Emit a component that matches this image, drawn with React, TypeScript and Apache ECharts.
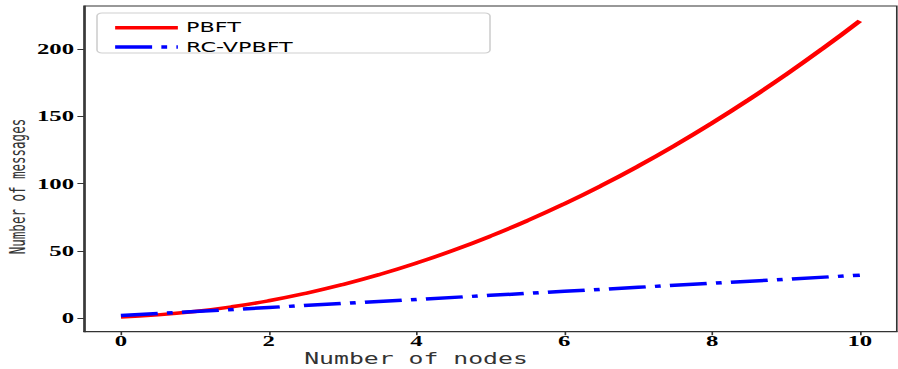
import React, { useEffect, useRef } from "react";
import * as echarts from "echarts";

// ---- data ----
const pbftNodes = [0, 0.5, 1, 1.5, 2, 2.5, 3, 3.5, 4, 4.5, 5, 5.5, 6, 6.5, 7, 7.5, 8, 8.5, 9, 9.5, 10];
const pbftMessages = [1, 2.5, 5, 8.5, 13, 18.5, 25, 32.5, 41, 50.5, 61, 72.5, 85, 98.5, 113, 128.5, 145, 162.5, 181, 200.5, 221];
const rcNodes = [0, 1, 2, 3, 4, 5, 6, 7, 8, 9, 10];
const rcMessages = [2, 5, 8, 11, 14, 17, 20, 23, 26, 29, 32];
const xTicks = [0, 2, 4, 6, 8, 10];
const yTicks = [0, 50, 100, 150, 200];
const seriesNames = ["PBFT", "RC-VPBFT"];
const xTitle = "Number of nodes";
const yTitle = "Number of messages";

// The reference image is horizontally stretched; render narrower and scale.
const FULL_W = 898;
const H = 369;
const W = 544;
const S = FULL_W / W;

export default function App() {
  const ref = useRef<HTMLDivElement>(null);
  useEffect(() => {
    if (!ref.current) return;
    const chart = echarts.init(ref.current, null, { renderer: "svg" });
    const pts = (xs: number[], ys: number[]) => xs.map((x, i) => [x, ys[i]]);
    chart.setOption({
      animation: false,
      backgroundColor: "#ffffff",
      grid: {
        left: 84 / S,
        right: 1.2 / S,
        top: 6,
        bottom: H - 331.7,
        show: true,
        borderColor: "#333",
        borderWidth: 1,
        containLabel: false,
      },
      xAxis: {
        type: "value",
        min: -0.5,
        max: 10.5,
        axisLine: { show: true, onZero: false, lineStyle: { color: "#333", width: 1 } },
        axisTick: { show: true, length: 3.5, customValues: xTicks, lineStyle: { color: "#333" } },
        axisLabel: {
          customValues: xTicks,
          margin: 2,
          color: "#000",
          fontFamily: "Liberation Serif",
          fontWeight: "bold",
          fontSize: 15,
        },
        splitLine: { show: false },
      },
      yAxis: {
        type: "value",
        min: -10,
        max: 232,
        axisLine: { show: true, onZero: false, lineStyle: { color: "#333", width: 1 } },
        axisTick: { show: true, length: 4, customValues: yTicks, lineStyle: { color: "#333" } },
        axisLabel: {
          customValues: yTicks,
          margin: 6,
          color: "#000",
          fontFamily: "Liberation Serif",
          fontWeight: "bold",
          fontSize: 15,
        },
        splitLine: { show: false },
      },
      legend: {
        orient: "vertical",
        left: 63,
        top: 15.7,
        itemWidth: 38,
        itemHeight: 14,
        itemGap: 5.3,
        itemStyle: { opacity: 0 },
        lineStyle: { width: 3.5 },
        textStyle: { fontFamily: "DejaVu Sans", fontSize: 13.5, color: "#000" },
        data: seriesNames,
      },
      graphic: [
        {
          type: "rect",
          z: -1,
          shape: { x: 97 / S, y: 13, width: (490 - 97) / S, height: 40, r: 3 },
          style: { fill: "rgba(255,255,255,0.8)", stroke: "#d0d0d0", lineWidth: 1 },
        },
        {
          type: "text",
          x: 416 / S,
          y: 359,
          style: {
            text: xTitle,
            fill: "#333",
            font: "15px 'DejaVu Sans Mono'",
            align: "center",
            verticalAlign: "middle",
          },
        },
        {
          type: "text",
          x: 18 / S,
          y: 186.5,
          rotation: Math.PI / 2,
          style: {
            text: yTitle,
            fill: "#333",
            font: "12.5px 'DejaVu Sans Mono'",
            align: "center",
            verticalAlign: "middle",
          },
        },
      ],
      series: [
        {
          name: seriesNames[0],
          type: "line",
          data: pts(pbftNodes, pbftMessages),
          smooth: true,
          symbol: "none",
          lineStyle: { color: "#ff0000", width: 3.5 },
          itemStyle: { color: "#ff0000" },
        },
        {
          name: seriesNames[1],
          type: "line",
          data: pts(rcNodes, rcMessages),
          symbol: "none",
          lineStyle: { color: "#0000ff", width: 3.5, type: [22.4, 5.6, 3.5, 5.6], cap: "butt" },
          itemStyle: { color: "#0000ff" },
        },
      ],
    });
    return () => chart.dispose();
  }, []);

  return (
    <div
      ref={ref}
      style={{
        position: "fixed",
        left: 0,
        top: 0,
        width: W,
        height: H,
        transform: `scaleX(${S})`,
        transformOrigin: "0 0",
        background: "#fff",
      }}
    />
  );
}
